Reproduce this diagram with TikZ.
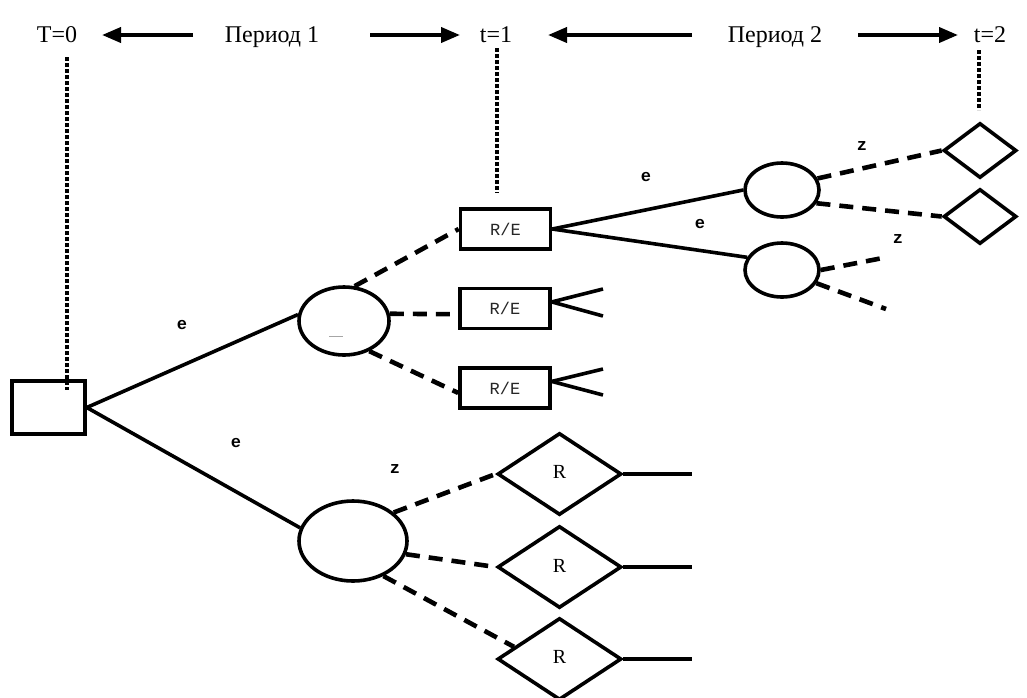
\documentclass[tikz,border=0pt]{standalone}
\usepackage{fontspec}
\setmainfont{Liberation Serif}
\newfontfamily\monofont{Liberation Mono}
\usetikzlibrary{arrows.meta,shapes.geometric}
\tikzset{
  shp/.style={draw=black,line width=3.6pt,inner sep=0pt,fill=white},
  sqbox/.style={shp,rectangle,minimum width=73pt,minimum height=53pt},
  rebox/.style={shp,rectangle,minimum width=90pt,minimum height=40pt,font=\monofont\fontsize{17}{17}\selectfont,text=black!85},
  bigell/.style={shp,ellipse},
  rdia/.style={shp,diamond,minimum width=124pt,minimum height=82pt,font=\fontsize{20}{20}\selectfont},
  smdia/.style={shp,diamond,minimum width=73pt,minimum height=55pt},
  solidln/.style={line width=3.6pt},
  dashln/.style={line width=4.6pt,dash pattern=on 14pt off 9pt},
  dotln/.style={line width=4.8pt,dash pattern=on 3.5pt off 2.5pt},
  hdr/.style={font=\fontsize{24}{24}\selectfont,anchor=base,inner sep=0pt},
  hdrarrow/.style={line width=3.8pt,-{Triangle[length=19pt,width=15pt]}},
  lbl/.style={font=\monofont\bfseries\fontsize{17}{17}\selectfont,inner sep=0pt}
}
\begin{document}
\begin{tikzpicture}[x=1pt,y=-1pt]
\useasboundingbox (0,0) rectangle (1027,697);
% header
\node[hdr] (T0) at (57,42) {T=0};
\node[hdr] (P1) at (272,42) {Период 1};
\node[hdr] (t1) at (496,42) {t=1};
\node[hdr] (P2) at (775,42) {Период 2};
\node[hdr] (t2) at (990,42) {t=2};
\coordinate (a1s) at (193,35); \coordinate (a1e) at (102,35);
\coordinate (a2s) at (370,35); \coordinate (a2e) at (460,35);
\coordinate (a3s) at (692,35); \coordinate (a3e) at (548,35);
\coordinate (a4s) at (858,35); \coordinate (a4e) at (958,35);
\draw[hdrarrow] (a1s) -- (a1e);
\draw[hdrarrow] (a2s) -- (a2e);
\draw[hdrarrow] (a3s) -- (a3e);
\draw[hdrarrow] (a4s) -- (a4e);
% dotted time lines
\coordinate (d0a) at (67,57); \coordinate (d0b) at (67,390);
\coordinate (d1a) at (497,48); \coordinate (d1b) at (497,193);
\coordinate (d2a) at (979,50); \coordinate (d2b) at (979,110);
% nodes
\node[sqbox] (sq) at (48.5,407.5) {};
\node[bigell,minimum width=90pt,minimum height=68pt] (e1) at (344,321) {};
\node[bigell,minimum width=108pt,minimum height=80pt] (e2) at (353,541) {};
\node[rebox] (b1) at (505.5,229) {R/E};
\node[rebox] (b2) at (505,308.5) {R/E};
\node[rebox] (b3) at (505,388) {R/E};
\node[bigell,minimum width=74pt,minimum height=54pt] (e3) at (782,190) {};
\node[bigell,minimum width=74pt,minimum height=54pt] (e4) at (782,270) {};
\node[smdia] (s1) at (980,150.5) {};
\node[smdia] (s2) at (980,216.5) {};
\node[rdia] (r1) at (559.5,474) {\raisebox{4pt}{R}};
\node[rdia] (r2) at (559.5,567) {\raisebox{2pt}{R}};
\node[rdia] (r3) at (559.5,659) {\raisebox{4pt}{R}};
% free ends
\coordinate (f2a) at (603,289); \coordinate (f2b) at (603,316);
\coordinate (f3a) at (603,369); \coordinate (f3b) at (603,395);
\coordinate (g4a) at (888,257); \coordinate (g4b) at (886,309);
\coordinate (h1) at (692,474); \coordinate (h2) at (692,567); \coordinate (h3) at (692,659);
% connectors
\draw[solidln] (sq.east) -- (e1.172);
\draw[solidln] (sq.east) -- (e2.166);
\draw[dashln] (e1.73) -- (b1.west);
\draw[dashln] (e1.9) -- (b2.187);
\draw[dashln] (e1.-50) -- (b3.186);
\draw[solidln] (b2.8) -- (f2a);
\draw[solidln] (b2.8) -- (f2b);
\draw[solidln] (b3.8) -- (f3a);
\draw[solidln] (b3.8) -- (f3b);
\draw[solidln] (b1.east) -- (e3.west);
\draw[solidln] (b1.east) -- (e4.160);
\draw[dashln] (e3.18) -- (s1.west);
\draw[dashln] (e3.-21) -- (s2.west);
\draw[dashln] (e4.east) -- (g4a);
\draw[dashln] (e4.-21) -- (g4b);
\draw[dashln] (e2.35) -- (r1.west);
\draw[dashln] (e2.-14) -- (r2.west);
\draw[dashln] (e2.-49) -- (r3.165);
\draw[solidln] (r1.east) -- (h1);
\draw[solidln] (r2.east) -- (h2);
\draw[solidln] (r3.east) -- (h3);
\draw[dotln] (d0a) -- (d0b);
\draw[dotln] (d1a) -- (d1b);
\draw[dotln] (d2a) -- (d2b);
% small grey mark inside e1
\coordinate (gm1) at (329,336); \coordinate (gm2) at (343,336);
\draw[gray!70,line width=1pt] (gm1) -- (gm2);
% labels
\node[lbl] (le1) at (182,325) {e};
\node[lbl] (le2) at (236,443) {e};
\node[lbl] (lz1) at (395,469) {z};
\node[lbl] (le3) at (646,177) {e};
\node[lbl] (le4) at (700,224) {e};
\node[lbl] (lz2) at (862,146) {z};
\node[lbl] (lz3) at (898,239) {z};
\end{tikzpicture}
\end{document}
